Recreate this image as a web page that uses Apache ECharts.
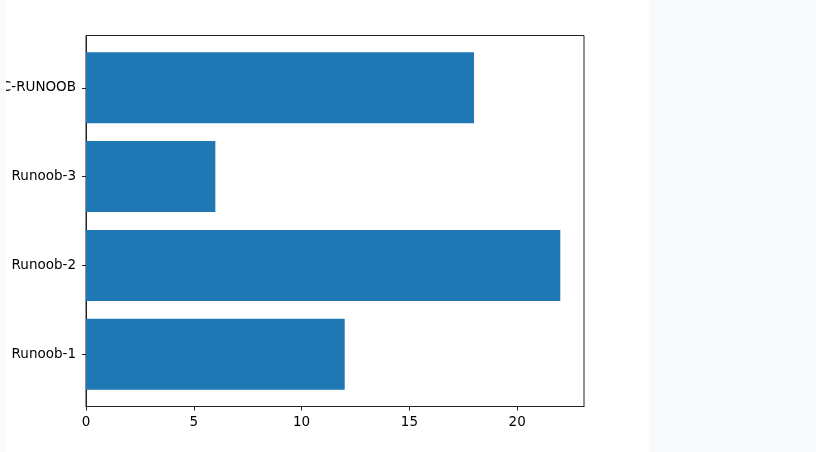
<!DOCTYPE html>
<html>
<head>
<meta charset="utf-8">
<script src="https://cdn.jsdelivr.net/npm/echarts@6/dist/echarts.min.js"></script>
<style>
html,body{margin:0;padding:0;background:#f9fafc;}
#chart{width:816px;height:452px;}
</style>
</head>
<body>
<div id="chart"></div>
<script>
const categories = ["Runoob-1", "Runoob-2", "Runoob-3", "C-RUNOOB"];
const values = [12, 22, 6, 18];
const xTicks = [0, 5, 10, 15, 20];
const yTicks = [0, 1, 2, 3];

const chart = echarts.init(document.getElementById('chart'));
const data = values.map((v, i) => [v, i]);
const font = '"DejaVu Sans", sans-serif';

chart.setOption({
  animation: false,
  backgroundColor: '#f9fafc',
  graphic: [
    { type: 'rect', z: -10, silent: true, shape: { x: 6, y: 0, width: 643, height: 452 }, style: { fill: '#ffffff' } },
    { type: 'rect', z: 1000, zlevel: 1, silent: true, shape: { x: 0, y: 0, width: 6, height: 452 }, style: { fill: '#f9fafc' } }
  ],
  grid: {
    left: 86, top: 35.5, width: 498, height: 371,
    containLabel: false, outerBoundsMode: 'none',
    show: true, borderColor: '#222', borderWidth: 1, backgroundColor: 'transparent'
  },
  xAxis: {
    type: 'value', min: 0, max: 23.1,
    splitLine: { show: false },
    axisLine: { show: true, onZero: false, lineStyle: { color: '#222', width: 1 } },
    axisTick: { show: true, length: 4, lineStyle: { color: '#222' }, customValues: xTicks },
    axisLabel: { color: '#000', fontSize: 13.5, fontFamily: font, margin: 9, customValues: xTicks }
  },
  yAxis: {
    type: 'value', min: -0.59, max: 3.59,
    splitLine: { show: false },
    axisLine: { show: true, onZero: false, lineStyle: { color: '#222', width: 1 } },
    axisTick: { show: true, length: 4, lineStyle: { color: '#222' }, customValues: yTicks },
    axisLabel: { color: '#000', fontSize: 13.5, fontFamily: font, margin: 10, customValues: yTicks,
      formatter: v => categories[Math.round(v)] }
  },
  series: [{
    type: 'custom',
    data: data,
    encode: { x: 0, y: 1 },
    renderItem: function (params, api) {
      const v = api.value(0), idx = api.value(1);
      const p0 = api.coord([0, idx + 0.4]);
      const p1 = api.coord([v, idx - 0.4]);
      return {
        type: 'rect',
        shape: { x: p0[0], y: p0[1], width: p1[0] - p0[0], height: p1[1] - p0[1] },
        style: { fill: '#1f77b4' }
      };
    }
  }]
});
</script>
</body>
</html>
